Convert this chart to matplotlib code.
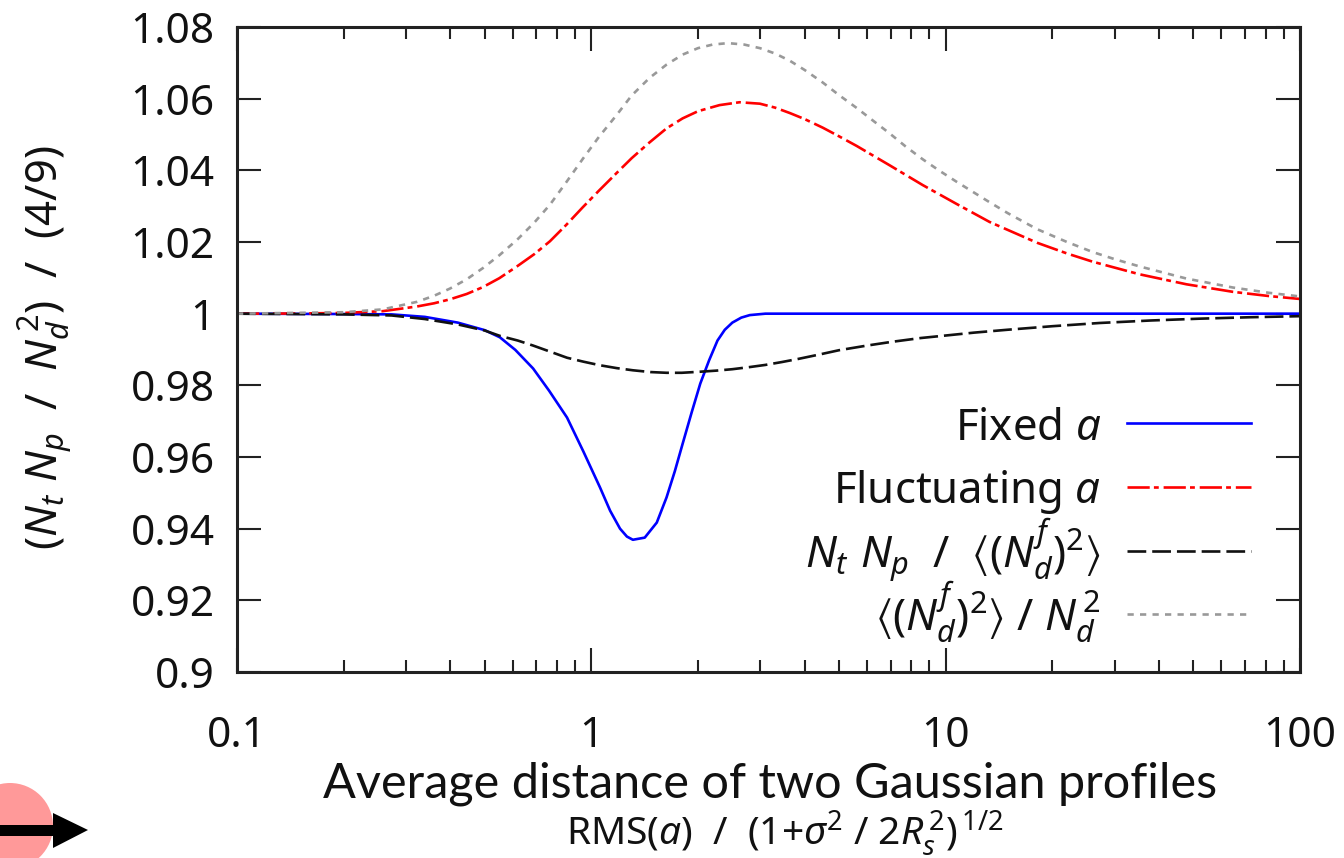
import matplotlib
matplotlib.use('Agg')
import matplotlib.pyplot as plt
from matplotlib.lines import Line2D
from matplotlib.patches import Ellipse, Polygon, Rectangle
from matplotlib.ticker import LogLocator, NullFormatter

W, H = 1344, 858

plt.rcParams['font.family'] = ['Noto Sans', 'DejaVu Sans']
plt.rcParams['mathtext.fontset'] = 'custom'
plt.rcParams['mathtext.rm'] = 'Noto Sans'
plt.rcParams['mathtext.it'] = 'Noto Sans:italic'
plt.rcParams['mathtext.fallback'] = 'stixsans'
plt.rcParams['lines.scale_dashes'] = False
plt.rcParams['text.color'] = '#111111'
plt.rcParams['xtick.labelcolor'] = '#111111'
plt.rcParams['ytick.labelcolor'] = '#111111'

# values
fixed_x = [0.1, 0.2, 0.273, 0.339, 0.42, 0.5, 0.552, 0.61, 0.685, 0.76, 0.854, 0.95, 1.058, 1.13,
           1.205, 1.26, 1.31, 1.415, 1.53, 1.63, 1.72, 1.81, 1.92, 2.03, 2.15, 2.27, 2.38, 2.5,
           2.65, 2.8, 3.1, 5, 100]
fixed_a = [1.0, 0.9999, 0.9998, 0.9991, 0.9975, 0.9954, 0.9934, 0.9899, 0.9847, 0.9785, 0.971, 0.9615, 0.9515, 0.945,
           0.940, 0.9378, 0.9369, 0.9375, 0.9417, 0.9487, 0.956, 0.9637, 0.9725, 0.9805, 0.987, 0.9925, 0.9955, 0.9975,
           0.9989, 0.9996, 1.0, 1.0, 1.0]

fluct_x = [0.1, 0.15, 0.2, 0.258, 0.322, 0.36, 0.399, 0.445, 0.494, 0.55, 0.617, 0.69, 0.764, 0.85, 0.946, 1.05,
           1.18, 1.3, 1.46, 1.63, 1.81, 2.0, 2.3, 2.62, 2.99, 3.3, 3.63, 4.0, 4.5, 5.0, 5.61, 6.95, 8.61,
           10.7, 13.3, 18.1, 22, 26, 35.2, 47.8, 64.6, 82, 100]
fluct_a = [1.0, 1.00005, 1.0002, 1.0007, 1.002, 1.0029, 1.004, 1.0055, 1.0074, 1.0099, 1.0132, 1.0166, 1.0202, 1.0248, 1.0297, 1.0343,
           1.0393, 1.0434, 1.0478, 1.0517, 1.0545, 1.0565, 1.0582, 1.059, 1.0586, 1.0575, 1.056, 1.0543, 1.0519, 1.0495, 1.0468, 1.0414, 1.0359,
           1.0307, 1.0256, 1.0198, 1.0168, 1.0145, 1.011, 1.0082, 1.0061, 1.0049, 1.0041]

ratio_x = [0.1, 0.2, 0.273, 0.339, 0.42, 0.5, 0.552, 0.62, 0.685, 0.77, 0.854, 0.95, 1.058, 1.18, 1.31, 1.47, 1.63,
           1.8, 2.03, 2.25, 2.5, 2.8, 3.1, 3.45, 3.85, 4.4, 5, 6, 7, 8.5, 10, 12, 14.9, 20, 27.2, 38, 52, 72, 100]
ratio = [1.0, 0.9998, 0.9995, 0.9985, 0.997, 0.9953, 0.9938, 0.9925, 0.9911, 0.9893, 0.9877, 0.9866, 0.9856, 0.9848, 0.9842, 0.9837, 0.9835,
         0.9835, 0.9838, 0.9841, 0.9845, 0.9851, 0.9857, 0.9865, 0.9874, 0.9886, 0.9898, 0.9911, 0.9921, 0.9932, 0.9939, 0.9947, 0.9955, 0.9965, 0.9974, 0.9981, 0.9986, 0.999, 0.9993]

nd2_x = [0.1, 0.2, 0.258, 0.322, 0.36, 0.399, 0.445, 0.494, 0.55, 0.617, 0.69, 0.764, 0.85, 0.946, 1.05, 1.18, 1.3,
         1.46, 1.63, 1.81, 2.0, 2.2, 2.43, 2.7, 2.99, 3.3, 3.63, 4.0, 4.5, 5.0, 5.61, 6.25, 6.95, 7.7, 8.61, 9.6, 10.7,
         13.3, 15, 18.1, 22, 26, 30, 35.2, 47.8, 64.6, 82, 100]
nd2 = [1.0, 1.0004, 1.0012, 1.0033, 1.005, 1.007, 1.0096, 1.0127, 1.0163, 1.0206, 1.0254, 1.0304, 1.0367, 1.0432, 1.0493, 1.0555, 1.0609,
       1.0658, 1.0695, 1.0723, 1.0741, 1.0751, 1.0755, 1.0751, 1.0741, 1.0726, 1.0706, 1.068, 1.0645, 1.061, 1.0574, 1.0538, 1.0503, 1.0467, 1.0431, 1.0399, 1.0369,
       1.0311, 1.028, 1.0236, 1.02, 1.0172, 1.0152, 1.0132, 1.0098, 1.0073, 1.0058, 1.0048]

y_ticks = [0.9, 0.92, 0.94, 0.96, 0.98, 1.0, 1.02, 1.04, 1.06, 1.08]
y_labels = ['0.9', '0.92', '0.94', '0.96', '0.98', '1', '1.02', '1.04', '1.06', '1.08']
x_ticks = [0.1, 1, 10, 100]
x_labels = ['0.1', '1', '10', '100']

legend_labels = [r'Fixed $a$', r'Fluctuating $a$',
                 r'$N_t\ N_p$  /  $\langle(N_d^{f})^2\rangle$',
                 r'$\langle(N_d^{f})^2\rangle$ / $N_d^{\,2}$']


def px(x, y):
    """Pixel position, from the top left, to figure fraction."""
    return x / W, 1 - y / H


fig = plt.figure(figsize=(W / 100, H / 100), dpi=100)
ax = fig.add_axes([237 / W, (H - 672) / H, (1300 - 237) / W, 645 / H])

styles = [dict(color='#0000ff', lw=1.9),
          dict(color='#ff0000', lw=1.9, dashes=(16, 3, 3.5, 3.5)),
          dict(color='#111111', lw=1.9, dashes=(13.5, 4.3)),
          dict(color='#999999', lw=1.9, dashes=(4.5, 4.5))]

ax.plot(fixed_x, fixed_a, **styles[0])
ax.plot(fluct_x, fluct_a, **styles[1])
ax.plot(ratio_x, ratio, **styles[2])
ax.plot(nd2_x, nd2, **styles[3])

ax.set_xscale('log')
ax.set_xlim(0.1, 100)
ax.set_ylim(0.9, 1.08)
ax.set_xticks(x_ticks, x_labels)
ax.set_yticks(y_ticks, y_labels)
ax.xaxis.set_minor_locator(LogLocator(base=10, subs=range(2, 10), numticks=10))
ax.xaxis.set_minor_formatter(NullFormatter())
ax.tick_params(which='major', direction='in', top=True, right=True, length=17.5, width=1.5,
               color='#222222', labelsize=30.5)
ax.tick_params(which='minor', direction='in', top=True, right=True, length=8.5, width=1.5, color='#222222')
ax.tick_params(axis='x', which='major', pad=31)
ax.tick_params(axis='y', which='major', pad=16)
for spine in ax.spines.values():
    spine.set_linewidth(2.2)
    spine.set_color('#222222')

# legend rows, gnuplot style: right aligned label, then the line sample
baselines = [440, 503, 567, 631]
line_rows = [423, 487, 551, 614]
for label, base, row, style in zip(legend_labels, baselines, line_rows, styles):
    x, y = px(1101, base)
    fig.text(x, y, label, ha='right', va='baseline', fontsize=31.5)
    (x0, y0), (x1, y1) = px(1127, row), px(1251, row)
    fig.add_artist(Line2D([x0, x1], [y0, y1], transform=fig.transFigure, **style))

x, y = px(45, 348)
fig.text(x, y, r'$(N_t\ N_p$  /  $N_d^{\,2})$  /  (4/9)', rotation=90, ha='center', va='center', fontsize=31.5)

x, y = px(770, 797)
fig.text(x, y, 'Average distance of two Gaussian profiles', ha='center', va='baseline',
         fontsize=35, family=['Lato', 'DejaVu Sans'])
x, y = px(785, 845)
fig.text(x, y, r'RMS($a$)  /  (1+$\sigma^2$ / 2$R_s^{\,2}$)$^{\,1/2}$', ha='center', va='baseline', fontsize=28)

# pink blob with the black arrow, bottom left corner
fig.add_artist(Ellipse(px(10, 826), 86 / W, 86 / H, color='#ff9999', lw=0, transform=fig.transFigure))
fig.add_artist(Rectangle(px(0, 836), 53 / W, 11 / H, color='black', lw=0, transform=fig.transFigure))
fig.add_artist(Polygon([px(53, 813), px(88, 830), px(53, 848)], color='black', lw=0, transform=fig.transFigure))

fig.savefig('out.png', dpi=100)
